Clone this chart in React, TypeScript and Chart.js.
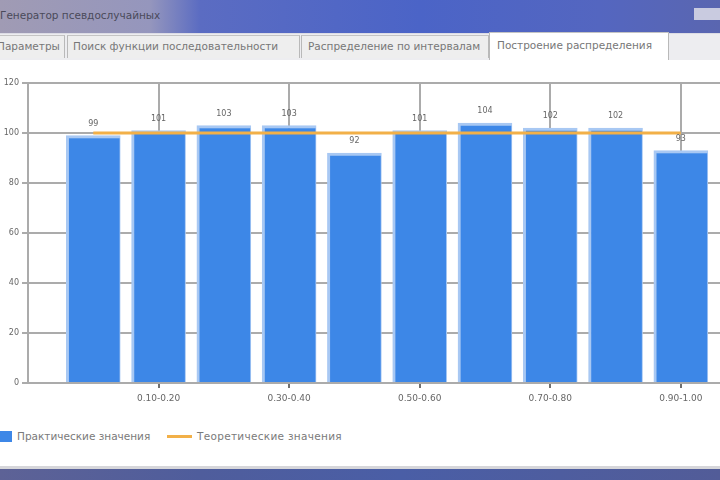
import React, { useEffect, useRef } from "react";
import { Chart, registerables } from "chart.js";

Chart.register(...registerables);

const categories = [
  "0.00-0.10", "0.10-0.20", "0.20-0.30", "0.30-0.40", "0.40-0.50",
  "0.50-0.60", "0.60-0.70", "0.70-0.80", "0.80-0.90", "0.90-1.00",
];
const practical = [99, 101, 103, 103, 92, 101, 104, 102, 102, 93];
const theoretical = [100, 100, 100, 100, 100, 100, 100, 100, 100, 100];
const yTicks = [0, 20, 40, 60, 80, 100, 120];
const xTickPositions = [2, 4, 6, 8, 10];
const legendLabels = ["Практические значения", "Теоретические значения"];
const tabLabels = [
  "Параметры",
  "Поиск функции последовательности",
  "Распределение по интервалам",
  "Построение распределения",
];
const windowTitle = "Генератор псевдослучайных";

const BAR_BLUE = "#3d87e7";
const BAR_EDGE = "#a8c8f3";
const ORANGE = "#f2b048";
const GRID = "#ababab";
const UI_FONT = "'DejaVu Sans', sans-serif";

const barLabels = {
  id: "barLabels",
  afterDatasetsDraw(chart: any) {
    const ctx = chart.ctx;
    const meta = chart.getDatasetMeta(1);
    ctx.save();
    ctx.font = "8px 'DejaVu Sans', sans-serif";
    ctx.fillStyle = "#666666";
    ctx.textAlign = "center";
    ctx.textBaseline = "middle";
    meta.data.forEach((el: any, i: number) => {
      ctx.fillText(String(practical[i]), el.x, el.y - 12);
    });
    ctx.restore();
  },
};

function ChartCanvas() {
  const ref = useRef<HTMLCanvasElement | null>(null);
  useEffect(() => {
    if (!ref.current) return;
    const chart = new Chart(ref.current, {
      type: "bar",
      data: {
        datasets: [
          {
            type: "line",
            label: legendLabels[1],
            data: theoretical.map((v, i) => ({ x: i + 1, y: v })),
            borderColor: ORANGE,
            backgroundColor: ORANGE,
            borderWidth: 3,
            pointRadius: 0,
            order: 0,
          } as any,
          {
            type: "bar",
            label: legendLabels[0],
            data: practical.map((v, i) => ({ x: i + 1, y: v })),
            backgroundColor: BAR_BLUE,
            borderColor: BAR_EDGE,
            borderWidth: { left: 3, top: 3, right: 1, bottom: 0 },
            borderSkipped: "bottom",
            barThickness: 54,
            order: 1,
          } as any,
        ],
      },
      options: {
        animation: false,
        responsive: false,
        maintainAspectRatio: false,
        layout: { padding: { top: 23, left: 0, right: 0, bottom: 0 } },
        plugins: { legend: { display: false }, tooltip: { enabled: false } },
        scales: {
          x: {
            type: "linear",
            min: 0,
            max: 10.6,
            offset: false,
            afterBuildTicks: (s: any) => {
              s.ticks = xTickPositions.map((v) => ({ value: v }));
            },
            afterFit: (s: any) => {
              s.height = 27;
            },
            grid: {
              offset: false,
              color: GRID,
              lineWidth: 2,
              tickLength: 5,
              tickColor: "#707070",
              tickWidth: 2,
            },
            border: { display: false },
            ticks: {
              callback: (v: any) => categories[Number(v) - 1],
              font: { size: 9, family: UI_FONT },
              color: "#666666",
              maxRotation: 0,
              autoSkip: false,
              padding: 5,
            },
          },
          y: {
            min: 0,
            max: 120,
            afterBuildTicks: (s: any) => {
              s.ticks = yTicks.map((v) => ({ value: v }));
            },
            afterFit: (s: any) => {
              s.width = 28;
            },
            grid: { color: GRID, lineWidth: 2, tickLength: 6 },
            border: { color: GRID, width: 2 },
            ticks: {
              font: { size: 8, family: UI_FONT },
              color: "#666666",
              padding: 3,
            },
          },
        } as any,
      },
      plugins: [barLabels],
    } as any);
    return () => chart.destroy();
  }, []);
  return (
    <canvas
      ref={ref}
      width={720}
      height={350}
      style={{ position: "absolute", left: 0, top: 60, width: 720, height: 350 }}
    />
  );
}

const tabStyle = (left: number, width: number, active: boolean): React.CSSProperties => ({
  position: "absolute",
  left,
  top: active ? 32 : 35,
  width,
  height: active ? 28 : 23,
  background: active ? "#ffffff" : "#eeeeee",
  borderLeft: "1px solid #b9b9b9",
  borderRight: "1px solid #b9b9b9",
  borderTop: "1px solid #c4c4c4",
  boxSizing: "border-box",
  overflow: "hidden",
  whiteSpace: "nowrap",
  font: `10.5px ${UI_FONT}`,
  color: "#777",
  lineHeight: active ? "24px" : "21px",
});

export default function App() {
  return (
    <div
      style={{
        position: "fixed",
        left: 0,
        top: 0,
        width: 720,
        height: 480,
        overflow: "hidden",
        background: "#ffffff",
      }}
    >
      {/* title bar */}
      <div
        style={{
          position: "absolute",
          left: 0,
          top: 0,
          width: 720,
          height: 33,
          background:
            "linear-gradient(90deg, #a09bb4 0px, #9596bd 150px, #5b6cc2 200px, #4b64c7 420px, #5466c0 600px, #5a66b0 720px)",
        }}
      />
      <div
        style={{
          position: "absolute",
          left: 0,
          top: 9,
          font: `10.5px ${UI_FONT}`,
          color: "#4a4a5a",
          whiteSpace: "nowrap",
        }}
      >
        {windowTitle}
      </div>
      <div
        style={{
          position: "absolute",
          left: 694,
          top: 8,
          width: 26,
          height: 12,
          background: "#c9cbe0",
        }}
      />
      {/* tab strip */}
      <div
        style={{
          position: "absolute",
          left: 0,
          top: 33,
          width: 720,
          height: 27,
          background: "#ededf0",
          borderTop: "1px solid #dcdce4",
          boxSizing: "border-box",
        }}
      />
      <div style={{ ...tabStyle(-6, 71, false), paddingLeft: 0 }}>
        <span style={{ marginLeft: 2 }}>{tabLabels[0]}</span>
      </div>
      <div style={{ ...tabStyle(67, 233, false), paddingLeft: 5 }}>{tabLabels[1]}</div>
      <div style={{ ...tabStyle(301, 188, false), paddingLeft: 6 }}>{tabLabels[2]}</div>
      <div style={{ ...tabStyle(489, 180, true), paddingLeft: 7 }}>{tabLabels[3]}</div>

      <ChartCanvas />

      {/* legend */}
      <div
        style={{
          position: "absolute",
          left: 0,
          top: 431,
          width: 12,
          height: 11,
          background: BAR_BLUE,
        }}
      />
      <div
        style={{
          position: "absolute",
          left: 17,
          top: 430,
          font: `10.5px ${UI_FONT}`,
          color: "#7a7a7a",
          whiteSpace: "nowrap",
        }}
      >
        {legendLabels[0]}
      </div>
      <div
        style={{
          position: "absolute",
          left: 167,
          top: 435,
          width: 25,
          height: 3,
          background: ORANGE,
        }}
      />
      <div
        style={{
          position: "absolute",
          left: 197,
          top: 430,
          font: `10.5px ${UI_FONT}`,
          color: "#7a7a7a",
          whiteSpace: "nowrap",
          letterSpacing: "0.3px",
        }}
      >
        {legendLabels[1]}
      </div>

      {/* bottom frame */}
      <div
        style={{
          position: "absolute",
          left: 0,
          top: 466,
          width: 720,
          height: 3,
          background: "#d6d6da",
        }}
      />
      <div
        style={{
          position: "absolute",
          left: 0,
          top: 469,
          width: 720,
          height: 11,
          background:
            "linear-gradient(90deg, #5d6296 0px, #4f5d9c 200px, #4a5ea6 400px, #525c98 720px)",
        }}
      />
    </div>
  );
}
